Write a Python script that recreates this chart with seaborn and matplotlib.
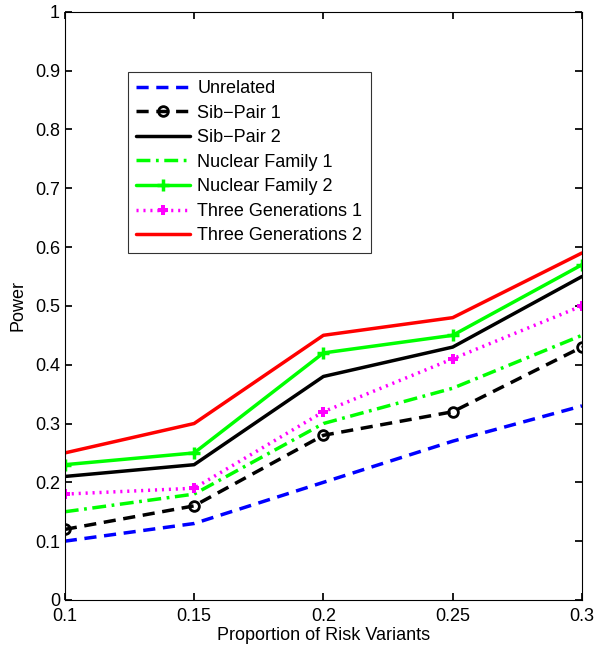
import pandas as pd
import matplotlib
matplotlib.use("Agg")
import matplotlib.pyplot as plt
import seaborn as sns

# values
proportion = [0.1, 0.15, 0.2, 0.25, 0.3]
unrelated = [0.10, 0.13, 0.20, 0.27, 0.33]
sib_pair_1 = [0.12, 0.16, 0.28, 0.32, 0.43]
sib_pair_2 = [0.21, 0.23, 0.38, 0.43, 0.55]
nuclear_1 = [0.15, 0.18, 0.30, 0.36, 0.45]
nuclear_2 = [0.23, 0.25, 0.42, 0.45, 0.57]
three_gen_1 = [0.18, 0.19, 0.32, 0.41, 0.50]
three_gen_2 = [0.25, 0.30, 0.45, 0.48, 0.59]

series = {
    "Unrelated": unrelated,
    "Sib\u2212Pair 1": sib_pair_1,
    "Sib\u2212Pair 2": sib_pair_2,
    "Nuclear Family 1": nuclear_1,
    "Nuclear Family 2": nuclear_2,
    "Three Generations 1": three_gen_1,
    "Three Generations 2": three_gen_2,
}

# colour, linestyle, marker
styles = {
    "Unrelated": ("#0000ff", (0, (3.5, 2.2)), None),
    "Sib\u2212Pair 1": ("black", (0, (3.5, 2.2)), "o"),
    "Sib\u2212Pair 2": ("black", "-", None),
    "Nuclear Family 1": ("#00ff00", (0, (4, 1.6, 0.8, 1.6)), None),
    "Nuclear Family 2": ("#00ff00", "-", "+"),
    "Three Generations 1": ("#ff00ff", (0, (0.6, 1.4)), "P"),
    "Three Generations 2": ("#ff0000", "-", None),
}

sns.set_theme(style="ticks")
plt.rcParams['font.family'] = ['Liberation Sans', 'DejaVu Sans']
plt.rcParams['text.color'] = 'black'
plt.rcParams['axes.labelcolor'] = 'black'
plt.rcParams['xtick.color'] = 'black'
plt.rcParams['ytick.color'] = 'black'

fig = plt.figure(figsize=(6, 6.56), dpi=100)
ax = fig.add_axes([0.108, 0.0854, 0.862, 0.8966])

for name, values in series.items():
    color, ls, marker = styles[name]
    df = pd.DataFrame({"x": proportion, "y": values})
    kw = {}
    if marker == "o":
        kw = dict(marker="o", markersize=7, markerfacecolor="none",
                  markeredgecolor="black", markeredgewidth=2)
    elif marker == "+":
        kw = dict(marker="+", markersize=9, markeredgewidth=2.5,
                  markeredgecolor=color)
    elif marker == "P":
        kw = dict(marker="P", markersize=7, markeredgewidth=0,
                  markerfacecolor=color)
    sns.lineplot(data=df, x="x", y="y", ax=ax, color=color, linestyle=ls,
                 linewidth=2.5, label=name, **kw)

ax.set_xlim(0.1, 0.3)
ax.set_ylim(0, 1)
ax.set_xticks(proportion)
ax.set_xticklabels(["0.1", "0.15", "0.2", "0.25", "0.3"])
ax.set_yticks([i / 10 for i in range(11)])
ax.set_yticklabels(["0"] + [f"0.{i}" for i in range(1, 10)] + ["1"])
ax.tick_params(direction="in", length=5, labelsize=13, top=True, right=True)
ax.tick_params(axis="x", pad=6)
for s in ax.spines.values():
    s.set_linewidth(0.8)
    s.set_color("black")
ax.set_xlabel("Proportion of Risk Variants", fontsize=13, labelpad=1)
ax.set_ylabel("Power", fontsize=13, labelpad=6)

leg = ax.legend(loc="upper left", bbox_to_anchor=(0.122, 0.898), borderaxespad=0,
                fontsize=13, frameon=True, fancybox=False, handlelength=3.0,
                labelspacing=0.42, borderpad=0.45, handletextpad=0.4)
leg.get_frame().set_edgecolor("black")
leg.get_frame().set_linewidth(0.8)

fig.savefig("out.png", dpi=100)
